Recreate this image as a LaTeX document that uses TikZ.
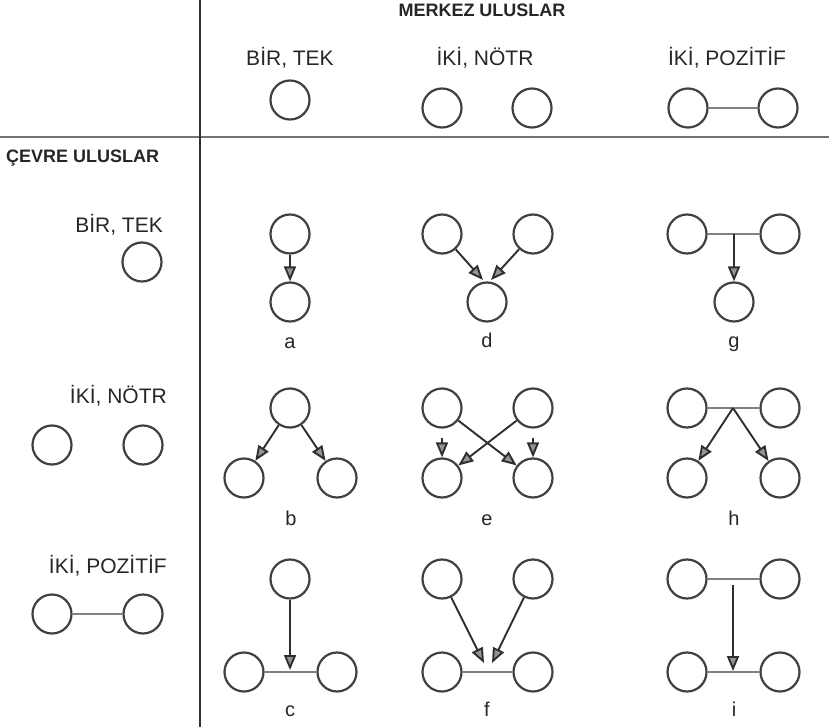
\documentclass[tikz,border=0pt]{standalone}
\usepackage{fontspec}
\setmainfont{Liberation Sans}
\usetikzlibrary{arrows.meta}
\tikzset{
  nat/.style={circle, draw=black!75, line width=2.2pt, minimum size=39pt, inner sep=0pt},
  bar/.style={draw=black!50, line width=2.2pt},
  arr/.style={draw=black!82, line width=1.9pt, -{Triangle[length=15pt,width=12pt,fill=black!42]}},
  vgrid/.style={draw=black!80, line width=2pt},
  hgrid/.style={draw=black!55, line width=2.4pt},
  hdr/.style={font=\fontsize{18}{20}\selectfont\bfseries, inner sep=0pt, text=black!85},
  lbl/.style={font=\fontsize{21}{24}\selectfont, inner sep=0pt, text=black!85},
  letter/.style={font=\fontsize{20}{22}\selectfont, inner sep=0pt, anchor=base, text=black!85}
}
\begin{document}
\begin{tikzpicture}[x=1pt,y=-1pt]
\useasboundingbox (0,0) rectangle (829,727);
% frame lines
\coordinate (vt) at (200,0);
\coordinate (vb) at (200,727);
\coordinate (hl) at (0,137);
\coordinate (hr) at (829,137);
\draw[hgrid] (hl) -- (hr);
\draw[vgrid] (vt) -- (vb);
% headers
\node[hdr, anchor=base] (merkez) at (482,17) {MERKEZ ULUSLAR};
\node[hdr, anchor=base west] (cevre) at (6,163) {ÇEVRE ULUSLAR};
% top header labels and circles
\node[lbl, anchor=base] (h1) at (290,66) {BİR, TEK};
\node[lbl, anchor=base] (h2) at (485,66) {İKİ, NÖTR};
\node[lbl, anchor=base] (h3) at (727,66) {İKİ, POZİTİF};
\node[nat] (ha) at (290,100) {};
\node[nat] (hb1) at (442,108) {};
\node[nat] (hb2) at (532,108) {};
\node[nat] (hc1) at (688,108) {};
\node[nat] (hc2) at (778,108) {};
\draw[bar] (hc1) -- (hc2);
% left labels and circles
\node[lbl, anchor=base east] (l1) at (163,233) {BİR, TEK};
\node[lbl, anchor=base east] (l2) at (167,403) {İKİ, NÖTR};
\node[lbl, anchor=base east] (l3) at (167,573) {İKİ, POZİTİF};
\node[nat] (la) at (142,262) {};
\node[nat] (lb1) at (52,445) {};
\node[nat] (lb2) at (143,445) {};
\node[nat] (lc1) at (52,614) {};
\node[nat] (lc2) at (143,614) {};
\draw[bar] (lc1) -- (lc2);
% a
\node[nat] (a1) at (290,234) {};
\node[nat] (a2) at (290,302) {};
\draw[arr] (a1) -- (a2);
\node[letter] (lta) at (290,348) {a};
% d
\node[nat] (d1) at (442,234) {};
\node[nat] (d2) at (533,234) {};
\node[nat] (d3) at (487,302) {};
\coordinate (dl) at (483,280);
\coordinate (dr) at (491,280);
\draw[arr] (d1) -- (dl);
\draw[arr] (d2) -- (dr);
\node[letter] (ltd) at (487,347) {d};
% g
\node[nat] (g1) at (687,234) {};
\node[nat] (g2) at (780,234) {};
\node[nat] (g3) at (734,302) {};
\draw[bar] (g1) -- (g2);
\coordinate (gm) at (734,234);
\draw[arr] (gm) -- (g3);
\node[letter] (ltg) at (734,347) {g};
% b
\node[nat] (b1) at (290,408) {};
\node[nat] (b2) at (244,478) {};
\node[nat] (b3) at (337,478) {};
\draw[arr] (b1) -- (b2);
\draw[arr] (b1) -- (b3);
\node[letter] (ltb) at (291,525) {b};
% e
\node[nat] (e1) at (442,408) {};
\node[nat] (e2) at (533,408) {};
\node[nat] (e3) at (442,478) {};
\node[nat] (e4) at (533,478) {};
\draw[arr] (e1) -- (e4);
\draw[arr] (e2) -- (e3);
\draw[arr, shorten <=9pt] (e1) -- (e3);
\draw[arr, shorten <=9pt] (e2) -- (e4);
\node[letter] (lte) at (487,525) {e};
% h
\node[nat] (h1c) at (687,408) {};
\node[nat] (h2c) at (780,408) {};
\node[nat] (h3c) at (687,478) {};
\node[nat] (h4c) at (780,478) {};
\draw[bar] (h1c) -- (h2c);
\coordinate (hm) at (733,408);
\draw[arr] (hm) -- (h3c);
\draw[arr] (hm) -- (h4c);
\node[letter] (lth) at (734,525) {h};
% c
\node[nat] (c1) at (290,579) {};
\node[nat] (c2) at (244,672) {};
\node[nat] (c3) at (337,672) {};
\draw[bar] (c2) -- (c3);
\coordinate (cm) at (290,670);
\draw[arr] (c1) -- (cm);
\node[letter] (ltc) at (290,716) {c};
% f
\node[nat] (f1) at (442,579) {};
\node[nat] (f2) at (533,579) {};
\node[nat] (f3) at (442,672) {};
\node[nat] (f4) at (533,672) {};
\draw[bar] (f3) -- (f4);
\coordinate (fl) at (484,663);
\coordinate (fr) at (492,663);
\draw[arr] (f1) -- (fl);
\draw[arr] (f2) -- (fr);
\node[letter] (ltf) at (487,716) {f};
% i
\node[nat] (i1) at (687,579) {};
\node[nat] (i2) at (780,579) {};
\node[nat] (i3) at (687,672) {};
\node[nat] (i4) at (780,672) {};
\draw[bar] (i1) -- (i2);
\draw[bar] (i3) -- (i4);
\coordinate (itop) at (733,579);
\coordinate (ibot) at (733,671);
\draw[arr, shorten <=6pt] (itop) -- (ibot);
\node[letter] (lti) at (734,716) {i};
\end{tikzpicture}
\end{document}
